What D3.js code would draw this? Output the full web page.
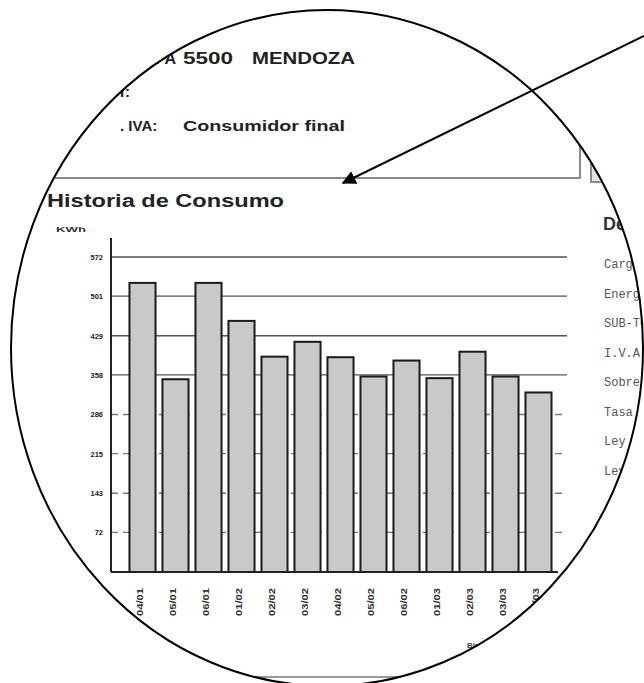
<!DOCTYPE html>
<html>
<head>
<meta charset="utf-8">
<script src="https://cdn.jsdelivr.net/npm/d3@7"></script>
<style>
  body { margin: 0; background: #fff; }
  svg { display: block; font-family: "Liberation Sans", Arial, sans-serif; }
</style>
</head>
<body>
<svg id="chart"></svg>
<script>
const periods = ["04/01", "05/01", "06/01", "01/02", "02/02", "03/02", "04/02",
  "05/02", "06/02", "01/03", "02/03", "03/03", "04/03"];
const kwh = [525, 350, 525, 456, 391, 418, 390, 355, 384, 352, 400, 355, 326];
const yTicks = [72, 143, 215, 286, 358, 429, 501, 572];
const detalle = ["Cargo Fijo", "Energía", "SUB-TOTAL", "I.V.A.", "Sobretasa",
  "Tasa Municipal", "Ley 6497", "Ley 7543"];

const W = 644, H = 683;
const plot = { left: 111, right: 567, top: 257, bottom: 572 };

const svg = d3.select("#chart").attr("width", W).attr("height", H);

// magnifier lens
const lens = { cx: 327, cy: 348, rx: 316, ry: 338 };

svg.append("defs")
  .append("clipPath")
  .attr("id", "lens")
  .append("ellipse")
  .attr("cx", lens.cx).attr("cy", lens.cy)
  .attr("rx", lens.rx).attr("ry", lens.ry);

const doc = svg.append("g").attr("clip-path", "url(#lens)");

doc.append("rect").attr("width", W).attr("height", H).attr("fill", "#fff");

// header block of the bill
doc.append("text").attr("x", 176).attr("y", 64).attr("text-anchor", "end")
  .attr("font-size", 16).attr("font-weight", "bold").attr("fill", "#222")
  .text("CPA");
doc.append("text").attr("x", 183).attr("y", 64)
  .attr("font-size", 16).attr("font-weight", "bold").attr("fill", "#222")
  .attr("textLength", 50).attr("lengthAdjust", "spacingAndGlyphs")
  .text("5500");
doc.append("text").attr("x", 252).attr("y", 64)
  .attr("font-size", 16).attr("font-weight", "bold").attr("fill", "#222")
  .attr("textLength", 103).attr("lengthAdjust", "spacingAndGlyphs")
  .text("MENDOZA");
doc.append("text").attr("x", 130).attr("y", 97).attr("text-anchor", "end")
  .attr("font-size", 15).attr("font-weight", "bold").attr("fill", "#222")
  .text("CUIT:");
doc.append("text").attr("x", 84).attr("y", 131).attr("text-anchor", "end")
  .attr("font-size", 15).attr("font-weight", "bold").attr("fill", "#222")
  .text("Cond");
doc.append("text").attr("x", 120).attr("y", 131)
  .attr("font-size", 15).attr("font-weight", "bold").attr("fill", "#222")
  .text(". IVA:");
doc.append("text").attr("x", 183).attr("y", 131)
  .attr("font-size", 15).attr("font-weight", "bold").attr("fill", "#222")
  .attr("textLength", 162).attr("lengthAdjust", "spacingAndGlyphs")
  .text("Consumidor final");

// box borders
doc.append("path")
  .attr("d", "M0,178H580V138")
  .attr("fill", "none").attr("stroke", "#8a8a8a").attr("stroke-width", 2);
doc.append("rect")
  .attr("x", 591).attr("y", 138).attr("width", 70).attr("height", 44)
  .attr("fill", "#e4e4e4").attr("stroke", "#8a8a8a").attr("stroke-width", 2);
doc.append("path")
  .attr("d", "M0,677H600")
  .attr("fill", "none").attr("stroke", "#9a9a9a").attr("stroke-width", 2);

// chart title
doc.append("text").attr("x", 47).attr("y", 207)
  .attr("font-size", 18).attr("font-weight", "bold").attr("fill", "#222")
  .attr("textLength", 237).attr("lengthAdjust", "spacingAndGlyphs")
  .text("Historia de Consumo");
doc.append("text").attr("x", 56).attr("y", 232)
  .attr("font-size", 8).attr("font-weight", "bold").attr("fill", "#333")
  .attr("textLength", 30).attr("lengthAdjust", "spacingAndGlyphs")
  .text("KWh");

// scales
const x = d3.scaleBand()
  .domain(periods)
  .range([126, 555])
  .paddingInner(0.21)
  .paddingOuter(0.105);

const y = d3.scaleLinear()
  .domain([0, 572])
  .range([plot.bottom, plot.top]);

// grid lines
doc.append("g")
  .selectAll("line")
  .data(yTicks)
  .enter()
  .append("line")
  .attr("x1", plot.left)
  .attr("x2", plot.right)
  .attr("y1", (d) => y(d))
  .attr("y2", (d) => y(d))
  .attr("stroke", (d) => (d >= 358 ? "#555" : "#777"))
  .attr("stroke-width", 1.3)
  .attr("stroke-dasharray", (d) => (d >= 358 ? null : "7,5"));

// y axis
const yAxis = doc.append("g")
  .attr("transform", `translate(${plot.left},0)`)
  .call(d3.axisLeft(y).tickValues(yTicks).tickSize(0).tickPadding(8));
yAxis.select(".domain").remove();
yAxis.selectAll("text")
  .attr("font-family", "Liberation Sans, Arial, sans-serif")
  .attr("font-size", 7.5)
  .attr("font-weight", "bold")
  .attr("fill", "#222");
doc.append("line")
  .attr("x1", plot.left).attr("x2", plot.left)
  .attr("y1", 238).attr("y2", plot.bottom)
  .attr("stroke", "#222").attr("stroke-width", 2);

// bars
doc.append("g")
  .selectAll("rect")
  .data(kwh)
  .enter()
  .append("rect")
  .attr("x", (d, i) => x(periods[i]))
  .attr("y", (d) => y(d))
  .attr("width", x.bandwidth())
  .attr("height", (d) => y(0) - y(d))
  .attr("fill", "#c9c9c9")
  .attr("stroke", "#1a1a1a")
  .attr("stroke-width", 2);

// baseline
doc.append("line")
  .attr("x1", plot.left).attr("x2", 558)
  .attr("y1", plot.bottom).attr("y2", plot.bottom)
  .attr("stroke", "#222").attr("stroke-width", 2);

// x labels, vertical
doc.append("g")
  .selectAll("text")
  .data(periods)
  .enter()
  .append("text")
  .attr("transform", (d) => `translate(${x(d) + x.bandwidth() / 2 - 3},588) rotate(-90)`)
  .attr("text-anchor", "end")
  .attr("dy", "0.35em")
  .attr("font-size", 9)
  .attr("font-weight", "bold")
  .attr("fill", "#333")
  .attr("textLength", 28)
  .attr("lengthAdjust", "spacingAndGlyphs")
  .text((d) => d);

doc.append("text").attr("x", 467).attr("y", 648)
  .attr("font-size", 8).attr("font-weight", "bold").attr("fill", "#444")
  .text("Bim");

// detail list on the right
doc.append("text").attr("x", 603).attr("y", 230)
  .attr("font-size", 18).attr("font-weight", "bold").attr("fill", "#333")
  .text("Detalle");

doc.append("g")
  .selectAll("text")
  .data(detalle)
  .enter()
  .append("text")
  .attr("x", 604)
  .attr("y", (d, i) => 268 + i * 29.5)
  .attr("font-family", "Liberation Mono, DejaVu Sans Mono, monospace")
  .attr("font-size", 12)
  .attr("fill", "#555")
  .text((d) => d);

// lens rim
svg.append("ellipse")
  .attr("cx", lens.cx).attr("cy", lens.cy)
  .attr("rx", lens.rx).attr("ry", lens.ry)
  .attr("fill", "none").attr("stroke", "#000").attr("stroke-width", 2);

// pointer arrow
svg.append("defs")
  .append("marker")
  .attr("id", "head")
  .attr("viewBox", "0 0 10 10")
  .attr("refX", 9).attr("refY", 5)
  .attr("markerWidth", 7).attr("markerHeight", 7)
  .attr("orient", "auto")
  .append("path")
  .attr("d", "M0,0L10,5L0,10Z")
  .attr("fill", "#000");

svg.append("line")
  .attr("x1", 644).attr("y1", 36)
  .attr("x2", 343).attr("y2", 183)
  .attr("stroke", "#000").attr("stroke-width", 2)
  .attr("marker-end", "url(#head)");
</script>
</body>
</html>
